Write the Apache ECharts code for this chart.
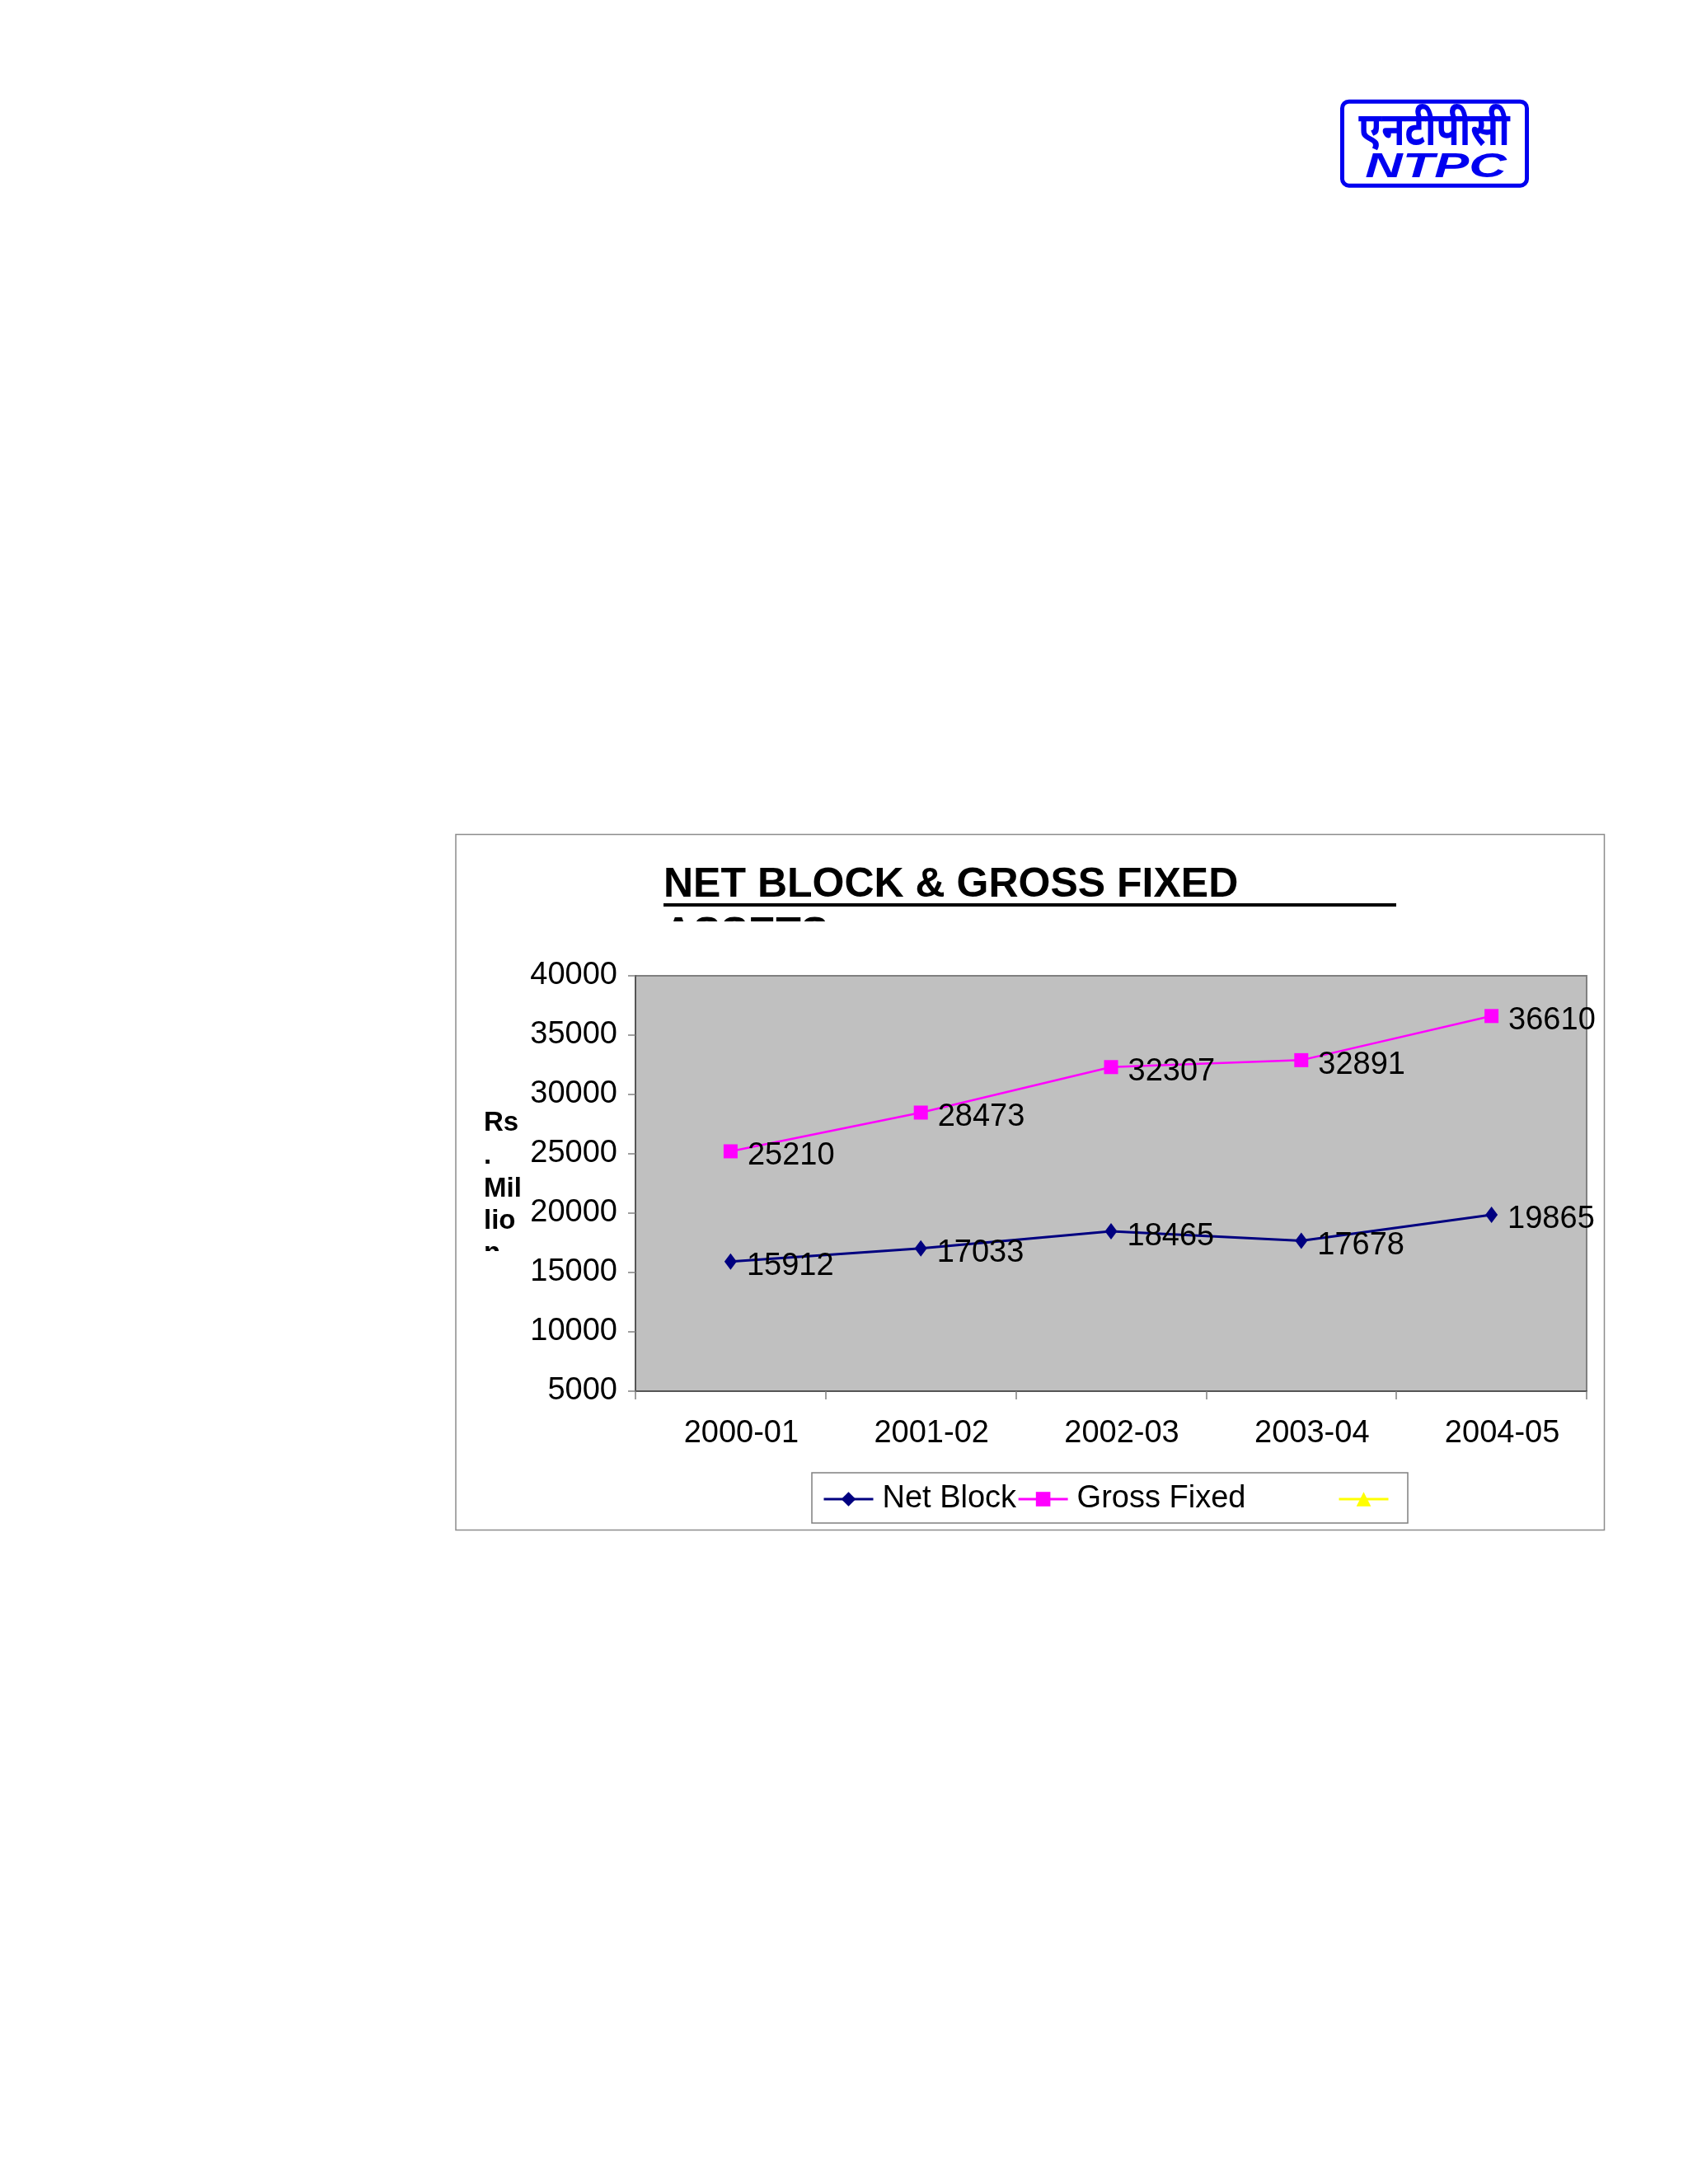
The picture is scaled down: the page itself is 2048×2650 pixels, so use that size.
<!DOCTYPE html>
<html><head><meta charset="utf-8">
<script src="https://cdn.jsdelivr.net/npm/echarts@6/dist/echarts.min.js"></script>
<style>html,body{margin:0;padding:0;background:#fff}#c{width:2048px;height:2650px}</style>
</head><body><div id="c"></div>
<script>
// ---- data ----
const categories = ['2000-01', '2001-02', '2002-03', '2003-04', '2004-05'];
const netBlock = [15912, 17033, 18465, 17678, 19865];
const grossFixed = [25210, 28473, 32307, 32891, 36610];
const thirdSeries = [];
const seriesNames = ['Net Block', 'Gross Fixed', 'Series 3'];
const yMin = 5000, yMax = 40000, yStep = 5000;
const titleLines = ['NET BLOCK & GROSS FIXED', 'ASSETS'];
const yTitleLines = ['Rs', '.', 'Mil', 'lio', 'n'];
const logoHindi = 'एनटीपीसी';
const logoLatin = 'NTPC';

const FF = '"Liberation Sans", Arial, sans-serif';
const chart = echarts.init(document.getElementById('c'), null, {renderer: 'canvas'});

function txt(text, x, y, font, extra) {
  return Object.assign({
    type: 'text', x: x, y: y, z: 10,
    style: Object.assign({text: text, font: font, fill: '#000', textAlign: 'left', textVerticalAlign: 'middle', align: 'left', verticalAlign: 'middle'}, (extra && extra.style) || {})
  }, (extra && extra.el) || {});
}

const graphics = [];
// outer chart frame
graphics.push({type: 'rect', z: 1, shape: {x: 553, y: 1012.5, width: 1393.5, height: 844}, style: {fill: 'none', stroke: '#8c8c8c', lineWidth: 1.5}});
// title
graphics.push(txt(titleLines[0], 805, 1074, 'bold 50px ' + FF));
graphics.push({type: 'rect', z: 10, shape: {x: 805, y: 1096, width: 889, height: 4}, style: {fill: '#000'}});
graphics.push(txt(titleLines[1], 805, 1134, 'bold 50px ' + FF));
graphics.push({type: 'rect', z: 11, shape: {x: 795, y: 1118, width: 260, height: 50}, style: {fill: '#fff'}});
// y axis title
const yBase = [1374, 1414, 1454, 1493, 1532];
yTitleLines.forEach(function (t, i) { graphics.push(txt(t, 587, yBase[i] - 11.5, 'bold 33px ' + FF)); });
graphics.push({type: 'rect', z: 11, shape: {x: 580, y: 1518, width: 55, height: 30}, style: {fill: '#fff'}});
// legend frame
graphics.push({type: 'rect', z: 1, shape: {x: 985, y: 1787, width: 723, height: 61}, style: {fill: 'none', stroke: '#808080', lineWidth: 1.5}});
// logo
graphics.push({type: 'rect', z: 10, shape: {x: 1628.5, y: 123.2, width: 224, height: 102, r: 8}, style: {fill: '#fff', stroke: '#0000F0', lineWidth: 5}});
graphics.push({type: 'text', z: 12, x: 1740, y: 160, scaleX: 0.82, style: {text: logoHindi, font: 'bold 56px "Noto Sans", sans-serif', fill: '#0000F0', textAlign: 'center', align: 'center', textVerticalAlign: 'middle', verticalAlign: 'middle'}});
graphics.push({type: 'text', z: 12, x: 1742, y: 203, scaleX: 1.5, style: {text: logoLatin, font: 'italic 900 42px ' + FF, fill: '#0000F0', textAlign: 'center', align: 'center', textVerticalAlign: 'middle', verticalAlign: 'middle'}});

const labelStyle = {show: true, position: 'right', distance: 12, offset: [0, 6], fontSize: 38, fontFamily: FF, color: '#000'};

chart.setOption({
  animation: false,
  backgroundColor: '#ffffff',
  grid: {left: 771, top: 1184, width: 1154, height: 504, show: true, backgroundColor: '#C0C0C0', borderColor: '#808080', borderWidth: 2, containLabel: false},
  xAxis: {
    type: 'category', data: categories, boundaryGap: true,
    axisLine: {show: true, lineStyle: {color: '#555', width: 2}},
    axisTick: {show: true, length: 10, lineStyle: {color: '#808080', width: 1.5}},
    axisLabel: {fontSize: 38, fontFamily: FF, color: '#000', margin: 33, padding: [0, 0, 0, 26]},
    splitLine: {show: false}
  },
  yAxis: {
    type: 'value', min: yMin, max: yMax, interval: yStep,
    axisLine: {show: true, lineStyle: {color: '#555', width: 2}},
    axisTick: {show: true, length: 9, lineStyle: {color: '#808080', width: 1.5}},
    axisLabel: {fontSize: 38, fontFamily: FF, color: '#000', margin: 22, padding: [12, 0, 0, 0], formatter: function (v) { return String(v); }},
    splitLine: {show: false}
  },
  legend: [{
    data: [seriesNames[0], seriesNames[1]],
    left: 998, top: 1800, orient: 'horizontal', padding: 0,
    itemWidth: 60, itemHeight: 22, itemGap: 1,
    lineStyle: {width: 3},
    textStyle: {fontSize: 38, fontFamily: FF, color: '#000', padding: [0, 0, 0, 6]}
  }, {
    data: [seriesNames[2]],
    left: 1623, top: 1808, padding: 0,
    itemWidth: 60, itemHeight: 22,
    lineStyle: {width: 3},
    formatter: function () { return ''; },
    textStyle: {fontSize: 38, fontFamily: FF, color: '#000'}
  }],
  series: [{
    name: seriesNames[0], type: 'line', data: netBlock,
    symbol: 'diamond', symbolSize: [15, 20],
    lineStyle: {color: '#000080', width: 3}, itemStyle: {color: '#000080'},
    label: labelStyle
  }, {
    name: seriesNames[1], type: 'line', data: grossFixed,
    symbol: 'rect', symbolSize: 17,
    lineStyle: {color: '#FF00FF', width: 2.5}, itemStyle: {color: '#FF00FF'},
    label: labelStyle
  }, {
    name: seriesNames[2], type: 'line', data: thirdSeries,
    symbol: 'triangle', symbolSize: 18,
    lineStyle: {color: '#FFFF00', width: 2.5}, itemStyle: {color: '#FFFF00'}
  }],
  graphic: graphics
});
</script></body></html>
